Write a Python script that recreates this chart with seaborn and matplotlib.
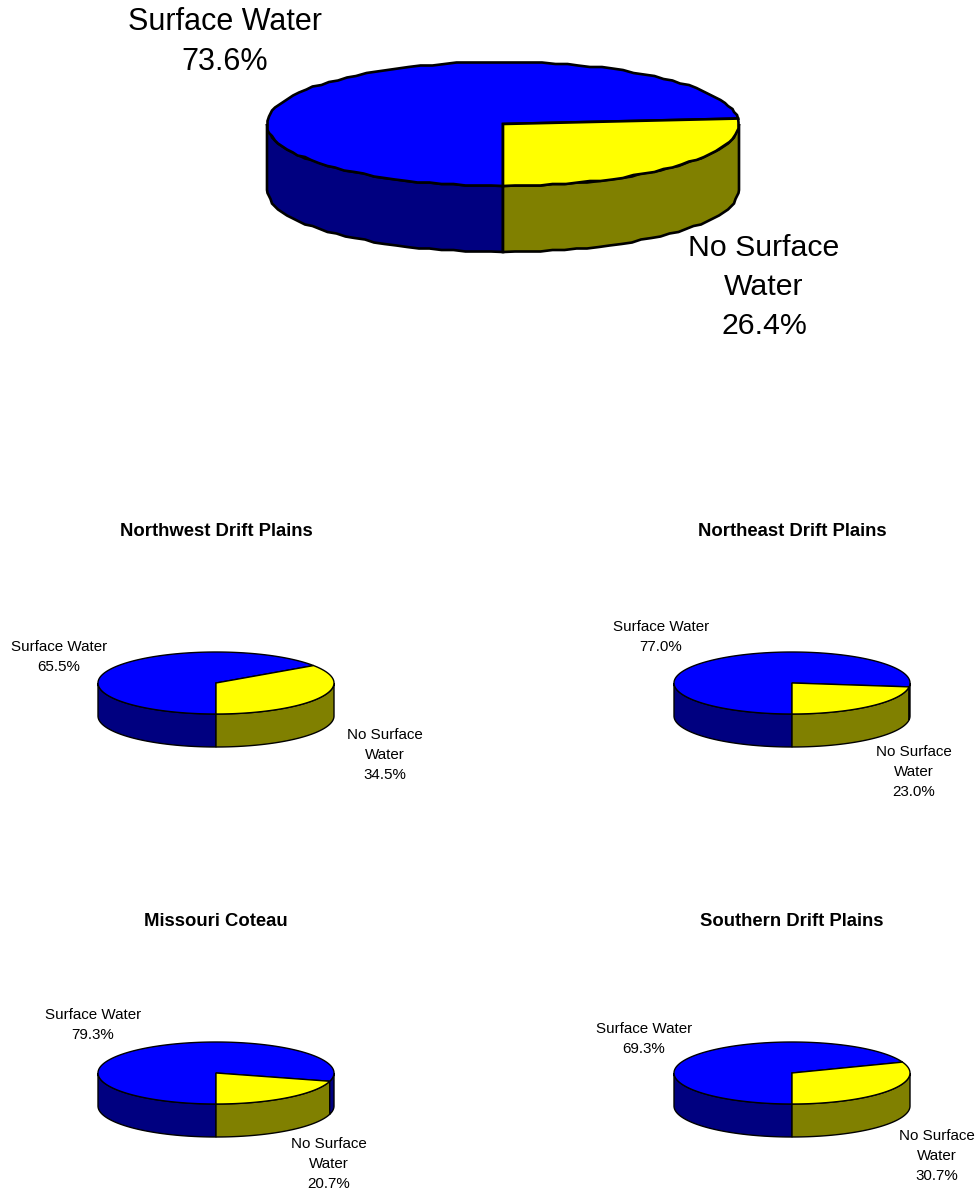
import numpy as np
import matplotlib
matplotlib.use("Agg")
import matplotlib.pyplot as plt
from matplotlib.patches import Polygon
import seaborn as sns

# Survey shares, in percent
regions = ["Northwest Drift Plains", "Northeast Drift Plains", "Missouri Coteau", "Southern Drift Plains"]
surface_water = [65.5, 77.0, 79.3, 69.3]
no_surface_water = [34.5, 23.0, 20.7, 30.7]
overall_surface = 73.6
overall_none = 26.4

BLUE, NAVY = "#0000FF", "#000080"
YELLOW, OLIVE = "#FFFF00", "#808000"

sns.set_theme(style="white")
plt.rcParams["font.family"] = ["Liberation Sans", "DejaVu Sans"]

fig = plt.figure(figsize=(9.8, 11.91), dpi=100)
ax = fig.add_axes([0, 0, 1, 1])
ax.set_xlim(0, 980)
ax.set_ylim(1191, 0)
ax.axis("off")


def arc(cx, cy, rx, ry, a0, a1, step, snap):
    """Points on the ellipse between two angles; snap > 0 rounds inner points to a coarse grid."""
    n = max(int(abs(a1 - a0) / step) + 1, 2)
    t = np.radians(np.linspace(a0, a1, n))
    x, y = rx * np.cos(t), ry * np.sin(t)
    if snap:
        x[1:-1] = np.round(x[1:-1] / snap) * snap
        y[1:-1] = np.round(y[1:-1] / snap) * snap
    return np.column_stack([cx + x, cy - y])


def wall(cx, cy, rx, ry, depth, a0, a1, color, lw, step, snap):
    top = arc(cx, cy, rx, ry, a0, a1, step, snap)
    bottom = top[::-1] + [0, depth]
    ax.add_patch(Polygon(np.vstack([top, bottom]), closed=True, fc=color, ec="black", lw=lw, joinstyle="miter"))


def pie3d(cx, cy, rx, ry, depth, share, lw, step=1.5, snap=0):
    # The dry slice starts at six o'clock and sweeps counter-clockwise
    start = -90.0
    end = start + share * 3.6
    wall(cx, cy, rx, ry, depth, 180, 270, NAVY, lw, step, snap)
    wall(cx, cy, rx, ry, depth, start, min(end, 0), OLIVE, lw, step, snap)
    if end < 0:
        wall(cx, cy, rx, ry, depth, end, 0, NAVY, lw, step, snap)
    blue = arc(cx, cy, rx, ry, end, start + 360, step, snap)
    ax.add_patch(Polygon(np.vstack([[cx, cy], blue]), closed=True, fc=BLUE, ec="black", lw=lw))
    yellow = arc(cx, cy, rx, ry, start, end, step, snap)
    ax.add_patch(Polygon(np.vstack([[cx, cy], yellow]), closed=True, fc=YELLOW, ec="black", lw=lw))


def caption(x, y, text, size, spacing, **kw):
    for i, line in enumerate(text.split("\n")):
        ax.text(x, y + i * spacing, line, ha="center", va="center", fontsize=size, color="black", **kw)


# Statewide pie
pie3d(503, 124, 236, 62, 66, overall_none, 1.9, step=3, snap=1.5)
caption(225, 22, f"Surface Water\n{overall_surface:.1f}%", 22, 39.5)
caption(764, 248, f"No Surface\nWater\n{overall_none:.1f}%", 21.8, 39)

# Regional pies
centres = [(216, 683), (792, 683), (216, 1073), (792, 1073)]
title_y = [531, 531, 921, 921]
wet_xy = [(59, 647), (661, 627), (93, 1015), (644, 1029)]
dry_xy = [(385, 735), (914, 752), (329, 1144), (937, 1136)]

for i, name in enumerate(regions):
    cx, cy = centres[i]
    pie3d(cx, cy, 118, 31, 33, no_surface_water[i], 1.0)
    caption(cx, title_y[i], name, 13.3, 0, fontweight="bold")
    caption(*wet_xy[i], f"Surface Water\n{surface_water[i]:.1f}%", 10.9, 20)
    caption(*dry_xy[i], f"No Surface\nWater\n{no_surface_water[i]:.1f}%", 10.9, 20)

fig.savefig("out.png", dpi=100, facecolor="white")
